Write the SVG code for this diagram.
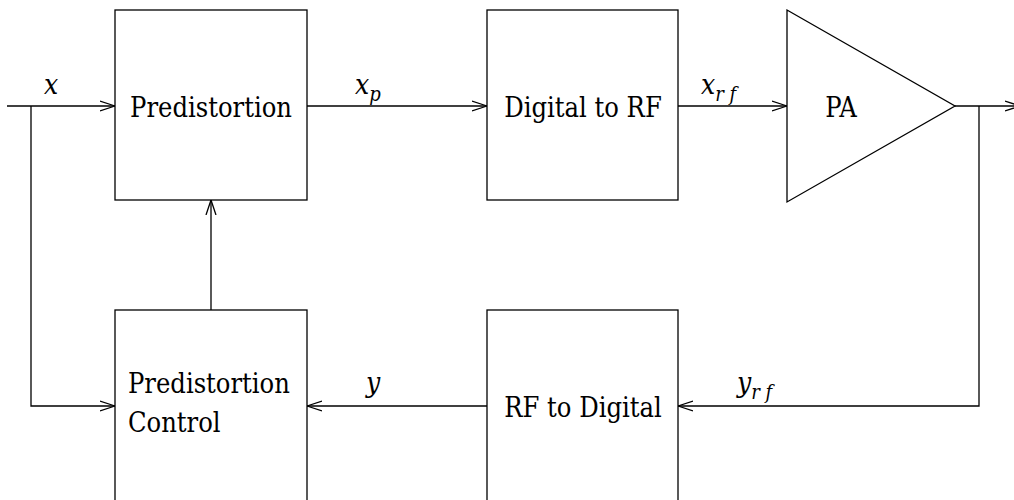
<svg xmlns="http://www.w3.org/2000/svg" width="1014" height="500" viewBox="0 0 1014 500">
<style>
.box{fill:#fff;stroke:#000;stroke-width:1.3}
.ln{fill:none;stroke:#000;stroke-width:1.3}
.t{font-family:"DejaVu Serif Condensed","DejaVu Serif",serif;font-stretch:condensed;font-size:27px;fill:#000}
.m{font-family:"DejaVu Serif Condensed","DejaVu Serif",serif;font-stretch:condensed;font-style:italic;font-size:28px;fill:#000}
.s{font-size:20px}
</style>
<defs>
<marker id="ah" markerWidth="16" markerHeight="12" refX="15" refY="6" orient="auto" markerUnits="userSpaceOnUse">
<path d="M0,1 L15,6 L0,11" fill="none" stroke="#000" stroke-width="1.3"/>
</marker>
</defs>
<rect width="1014" height="500" fill="#fff"/>
<g id="connectors">
<line class="ln" x1="7" y1="106" x2="115" y2="106" marker-end="url(#ah)"/>
<polyline class="ln" points="31,106 31,406 115,406" marker-end="url(#ah)"/>
<line class="ln" x1="307" y1="106" x2="487" y2="106" marker-end="url(#ah)"/>
<line class="ln" x1="678" y1="106" x2="787" y2="106" marker-end="url(#ah)"/>
<line class="ln" x1="955" y1="106" x2="1020" y2="106" marker-end="url(#ah)"/>
<polyline class="ln" points="979,106 979,406 678,406" marker-end="url(#ah)"/>
<line class="ln" x1="487" y1="406" x2="307" y2="406" marker-end="url(#ah)"/>
<line class="ln" x1="211" y1="310" x2="211" y2="200" marker-end="url(#ah)"/>
<text class="m" x="44" y="94">x</text>
<text class="m" x="355" y="94">x<tspan class="s" dy="7">p</tspan></text>
<text class="m" x="701" y="94">x<tspan class="s" dy="7">r f</tspan></text>
<text class="m" x="366" y="392">y</text>
<text class="m" x="737" y="392">y<tspan class="s" dy="7">r f</tspan></text>
</g>
<g id="predistortion">
<rect class="box" x="115" y="10" width="192" height="190"/>
<text class="t" x="211" y="117" text-anchor="middle">Predistortion</text>
</g>
<g id="digital-to-rf">
<rect class="box" x="487" y="10" width="191" height="190"/>
<text class="t" x="583" y="117" text-anchor="middle">Digital to RF</text>
</g>
<g id="pa">
<polygon class="box" points="787,10 955,106 787,202"/>
<text class="t" x="841" y="117" text-anchor="middle">PA</text>
</g>
<g id="predistortion-control">
<rect class="box" x="115" y="310" width="192" height="200"/>
<text class="t" x="128" y="393">Predistortion</text>
<text class="t" x="128" y="432">Control</text>
</g>
<g id="rf-to-digital">
<rect class="box" x="487" y="310" width="191" height="200"/>
<text class="t" x="583" y="417" text-anchor="middle">RF to Digital</text>
</g>
</svg>
